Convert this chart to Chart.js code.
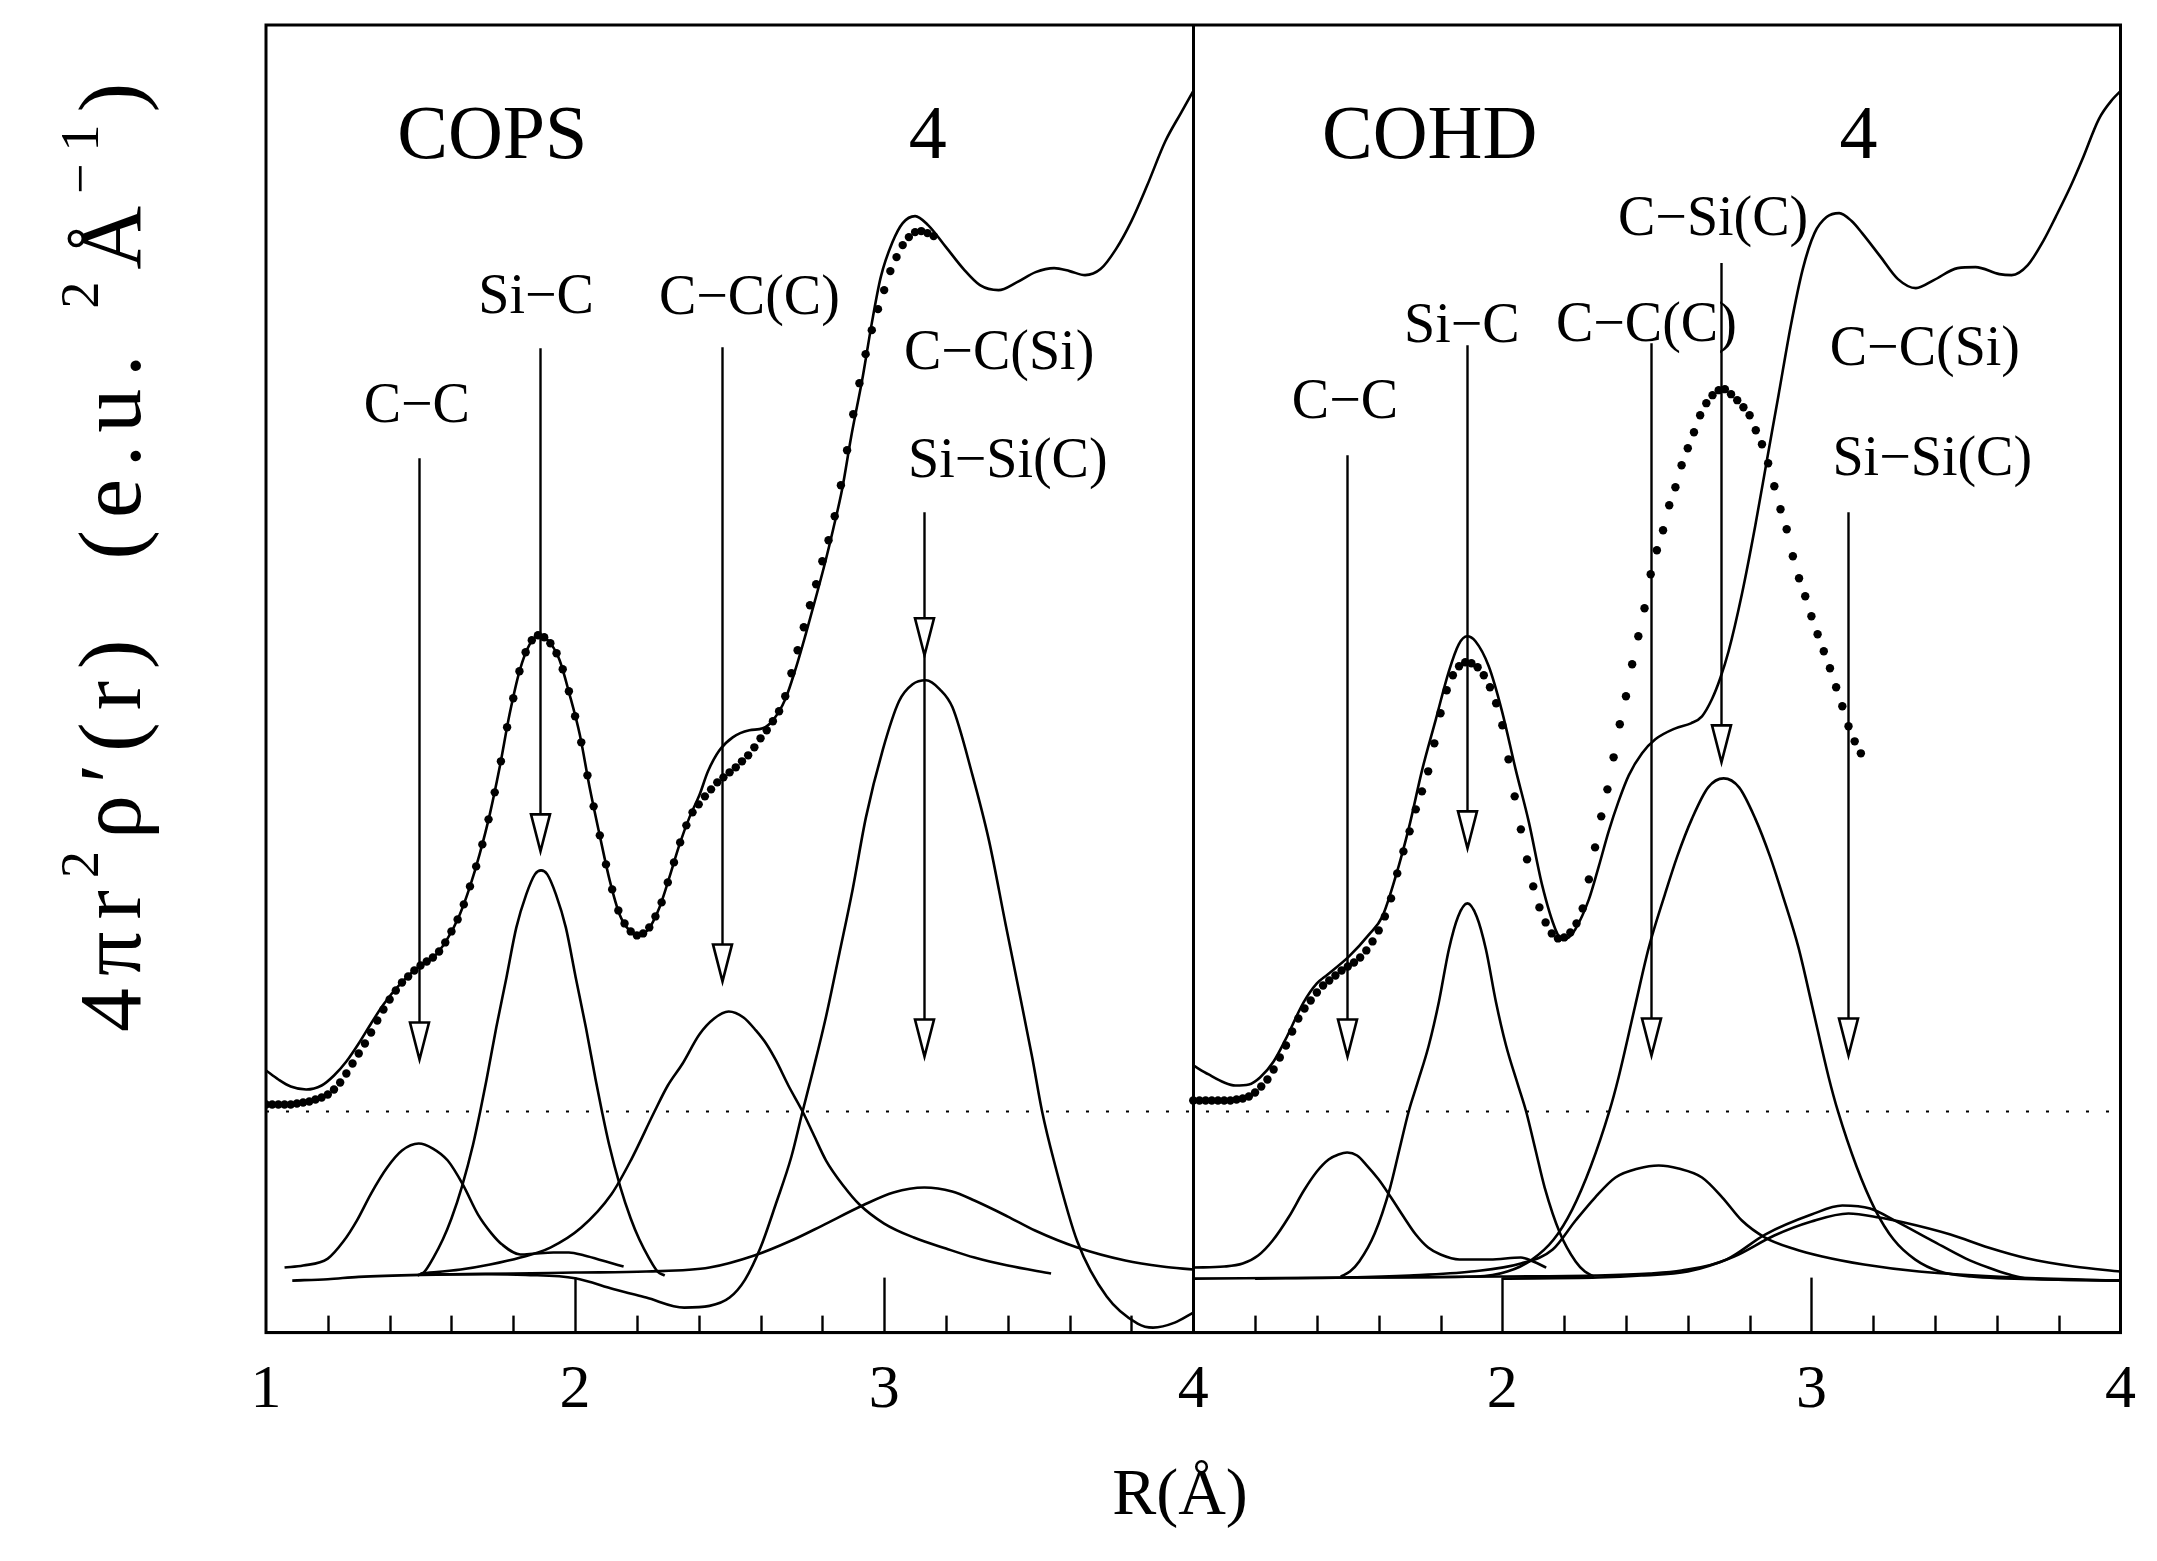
<!DOCTYPE html>
<html>
<head>
<meta charset="utf-8">
<title>Radial distribution functions: COPS and COHD</title>
<script src="https://cdn.jsdelivr.net/npm/chart.js@4.4.1/dist/chart.umd.min.js"></script>
<style>
  html, body { margin: 0; padding: 0; background: #fff; }
  canvas { display: block; }
</style>
</head>
<body>
<canvas id="rdf" width="2157" height="1561" style="width:2157px;height:1561px"></canvas>
<script>
// R in Å, intensity in arbitrary units (0 = dotted reference level)

const tickLabels = ["1", "2", "3", "4", "2", "3", "4"];

// R grid of the fitted curve (dots)
const fitR = [1.00,1.02,1.04,1.06,1.08,1.10,1.12,1.14,1.16,1.18,1.20,1.22,1.24,1.26,1.28,1.30,1.32,1.34,1.36,1.38,
  1.40,1.42,1.44,1.46,1.48,1.50,1.52,1.54,1.56,1.58,1.60,1.62,1.64,1.66,1.68,1.70,1.72,1.74,1.76,1.78,
  1.80,1.82,1.84,1.86,1.88,1.90,1.92,1.94,1.96,1.98,2.00,2.02,2.04,2.06,2.08,2.10,2.12,2.14,2.16,2.18,
  2.20,2.22,2.24,2.26,2.28,2.30,2.32,2.34,2.36,2.38,2.40,2.42,2.44,2.46,2.48,2.50,2.52,2.54,2.56,2.58,
  2.60,2.62,2.64,2.66,2.68,2.70,2.72,2.74,2.76,2.78,2.80,2.82,2.84,2.86,2.88,2.90,2.92,2.94,2.96,2.98,
  3.00,3.02,3.04,3.06,3.08,3.10,3.12,3.14,3.16];

// ---------- COPS ----------
const copsMeasured = [[1.00,0.41],[1.04,0.32],[1.08,0.25],[1.13,0.22],[1.18,0.26],[1.22,0.36],[1.26,0.50],[1.30,0.68],
  [1.34,0.88],[1.38,1.07],[1.433,1.27],[1.498,1.46],[1.541,1.54],[1.584,1.71],[1.627,1.97],[1.659,2.24],[1.691,2.57],
  [1.724,2.97],[1.756,3.44],[1.788,3.97],[1.821,4.41],[1.853,4.67],[1.885,4.76],[1.918,4.69],[1.95,4.51],[1.982,4.17],
  [2.015,3.77],[2.047,3.24],[2.079,2.77],[2.112,2.31],[2.144,1.97],[2.176,1.81],[2.208,1.76],[2.241,1.84],[2.273,2.04],
  [2.305,2.34],[2.338,2.67],[2.37,2.94],[2.402,3.16],[2.43,3.40],[2.467,3.61],[2.51,3.74],[2.564,3.81],[2.607,3.83],
  [2.64,3.91],[2.68,4.12],[2.715,4.44],[2.747,4.78],[2.78,5.15],[2.81,5.50],[2.835,5.82],[2.864,6.22],[2.893,6.74],
  [2.931,7.35],[2.96,7.88],[2.989,8.34],[3.027,8.69],[3.06,8.88],[3.10,8.95],[3.142,8.86],[3.20,8.64],[3.257,8.42],
  [3.31,8.26],[3.37,8.21],[3.43,8.29],[3.49,8.39],[3.55,8.43],[3.60,8.40],[3.65,8.36],[3.70,8.42],[3.75,8.62],
  [3.80,8.90],[3.85,9.25],[3.91,9.70],[3.96,9.98],[4.00,10.20]];

const copsFit = [0.07,0.07,0.07,0.07,0.07,0.08,0.09,0.10,0.12,0.14,0.17,0.22,0.29,0.38,0.48,0.58,0.68,0.79,0.91,1.02,
  1.12,1.21,1.29,1.35,1.41,1.46,1.50,1.54,1.60,1.69,1.80,1.92,2.07,2.25,2.45,2.67,2.92,3.19,3.50,3.84,
  4.13,4.40,4.59,4.71,4.76,4.74,4.68,4.58,4.42,4.20,3.95,3.69,3.36,3.05,2.76,2.47,2.22,2.01,1.88,1.80,
  1.76,1.78,1.84,1.95,2.09,2.29,2.49,2.69,2.86,2.99,3.07,3.15,3.22,3.29,3.34,3.39,3.44,3.50,3.56,3.64,
  3.73,3.81,3.90,4.00,4.15,4.38,4.61,4.84,5.06,5.27,5.50,5.71,5.95,6.26,6.61,6.97,7.28,7.57,7.81,8.02,
  8.21,8.40,8.54,8.66,8.74,8.79,8.80,8.78,8.75];

const copsCC = [[1.06,-1.56],[1.12,-1.54],[1.20,-1.47],[1.25,-1.30],[1.294,-1.09],[1.34,-0.82],[1.392,-0.56],[1.44,-0.39],
  [1.494,-0.32],[1.54,-0.37],[1.588,-0.49],[1.637,-0.73],[1.686,-1.03],[1.73,-1.22],[1.764,-1.33],[1.823,-1.43],
  [1.87,-1.42],[1.93,-1.41],[1.98,-1.41],[2.03,-1.44],[2.10,-1.50],[2.157,-1.55]];

const copsSiC = [[1.49,-1.64],[1.513,-1.60],[1.54,-1.47],[1.572,-1.28],[1.60,-1.07],[1.634,-0.75],[1.67,-0.33],[1.693,0.0],
  [1.713,0.31],[1.745,0.84],[1.778,1.34],[1.81,1.84],[1.842,2.17],[1.87,2.37],[1.89,2.41],[1.91,2.37],[1.938,2.17],
  [1.97,1.84],[2.002,1.34],[2.035,0.84],[2.067,0.31],[2.087,0.0],[2.11,-0.33],[2.146,-0.75],[2.18,-1.07],[2.208,-1.28],
  [2.24,-1.47],[2.267,-1.60],[2.29,-1.64]];

const copsCCC = [[1.50,-1.62],[1.63,-1.58],[1.725,-1.53],[1.823,-1.46],[1.92,-1.36],[2.02,-1.16],[2.117,-0.83],[2.18,-0.49],
  [2.257,0.0],[2.30,0.26],[2.348,0.48],[2.402,0.77],[2.45,0.93],[2.497,1.0],[2.545,0.94],[2.585,0.81],[2.62,0.67],
  [2.65,0.51],[2.69,0.26],[2.736,0.0],[2.77,-0.22],[2.812,-0.49],[2.87,-0.75],[2.92,-0.93],[3.0,-1.12],[3.096,-1.26],
  [3.20,-1.37],[3.292,-1.46],[3.40,-1.54],[3.54,-1.62]];

const copsCCSi = [[1.50,-1.63],[1.80,-1.62],[2.0,-1.61],[2.23,-1.60],[2.435,-1.56],[2.58,-1.44],[2.70,-1.29],[2.80,-1.14],
  [2.93,-0.94],[3.03,-0.81],[3.13,-0.76],[3.22,-0.80],[3.292,-0.89],[3.40,-1.05],[3.488,-1.19],[3.625,-1.36],
  [3.78,-1.49],[3.90,-1.55],[4.0,-1.58]];

const copsSiSi = [[1.085,-1.69],[1.20,-1.676],[1.30,-1.653],[1.50,-1.633],[1.71,-1.626],[1.84,-1.633],[2.0,-1.666],
  [2.126,-1.776],[2.23,-1.86],[2.353,-1.96],[2.435,-1.943],[2.50,-1.86],[2.55,-1.68],[2.60,-1.36],[2.65,-0.92],
  [2.70,-0.45],[2.736,0.0],[2.769,0.40],[2.812,0.95],[2.855,1.58],[2.898,2.22],[2.941,2.94],[2.995,3.61],[3.048,4.10],
  [3.092,4.27],[3.135,4.31],[3.18,4.22],[3.221,4.04],[3.285,3.37],[3.339,2.71],[3.393,1.87],[3.436,1.21],[3.479,0.54],
  [3.511,0.0],[3.549,-0.49],[3.625,-1.30],[3.72,-1.85],[3.82,-2.12],[3.87,-2.16],[3.94,-2.11],[4.0,-2.01]];

// arrows: R position, top of shaft, arrow tip(s)
const copsArrowR   = [1.495, 1.885, 2.475, 3.13];
const copsArrowTop = [6.53, 7.63, 7.64, 5.99];
const copsArrowTip = [[0.52], [2.60], [1.30], [4.56, 0.55]];

const copsLabels = [["C\u2212C", 1.488, 7.04], ["Si\u2212C", 1.874, 8.13], ["C\u2212C(C)", 2.564, 8.12],
  ["C\u2212C(Si)", 3.372, 7.57], ["Si\u2212Si(C)", 3.40, 6.49]];
const copsHeads = [["COPS", 1.732, 9.73], ["4", 3.141, 9.73]];

// ---------- COHD ----------
const cohdMeasured = [[1.00,0.46],[1.05,0.37],[1.10,0.29],[1.136,0.26],[1.18,0.27],[1.216,0.34],[1.26,0.50],[1.297,0.71],
  [1.357,1.09],[1.40,1.28],[1.435,1.37],[1.504,1.55],[1.569,1.77],[1.612,1.95],[1.655,2.35],[1.698,2.84],[1.741,3.42],
  [1.784,3.91],[1.827,4.40],[1.859,4.67],[1.886,4.75],[1.913,4.70],[1.956,4.45],[1.999,4.00],[2.043,3.42],[2.086,2.89],
  [2.129,2.26],[2.172,1.82],[2.193,1.72],[2.215,1.74],[2.236,1.82],[2.28,2.12],[2.312,2.45],[2.344,2.80],[2.376,3.10],
  [2.409,3.36],[2.452,3.58],[2.495,3.72],[2.56,3.83],[2.61,3.88],[2.646,3.95],[2.678,4.12],[2.705,4.33],[2.732,4.60],
  [2.775,5.17],[2.818,5.85],[2.856,6.51],[2.893,7.15],[2.933,7.85],[2.972,8.42],[3.01,8.78],[3.049,8.94],[3.09,8.98],
  [3.13,8.90],[3.164,8.78],[3.222,8.55],[3.28,8.32],[3.338,8.23],[3.396,8.31],[3.473,8.43],[3.531,8.44],[3.608,8.37],
  [3.648,8.36],[3.70,8.46],[3.75,8.70],[3.79,8.94],[3.839,9.25],[3.877,9.52],[3.93,9.92],[3.975,10.12],[4.00,10.20]];

const cohdFit = [0.11,0.11,0.11,0.11,0.11,0.11,0.11,0.12,0.13,0.15,0.19,0.25,0.32,0.42,0.54,0.66,0.80,0.93,1.03,1.11,
  1.19,1.26,1.31,1.36,1.41,1.45,1.49,1.54,1.61,1.70,1.81,1.95,2.13,2.38,2.60,2.80,3.02,3.20,3.40,3.68,
  3.98,4.21,4.36,4.45,4.49,4.48,4.44,4.36,4.24,4.08,3.86,3.52,3.15,2.82,2.52,2.25,2.04,1.89,1.78,1.73,
  1.74,1.79,1.88,2.03,2.32,2.64,2.95,3.22,3.54,3.87,4.15,4.47,4.75,5.03,5.37,5.61,5.81,6.06,6.24,6.46,
  6.63,6.79,6.96,7.08,7.16,7.21,7.22,7.17,7.11,7.04,6.96,6.81,6.67,6.48,6.25,6.02,5.82,5.55,5.33,5.15,
  4.95,4.77,4.60,4.43,4.24,4.05,3.85,3.70,3.58];

const cohdCC = [[1.00,-1.56],[1.10,-1.55],[1.16,-1.52],[1.21,-1.44],[1.257,-1.29],[1.31,-1.05],[1.358,-0.79],[1.40,-0.60],
  [1.438,-0.48],[1.47,-0.43],[1.498,-0.41],[1.53,-0.44],[1.559,-0.53],[1.60,-0.68],[1.64,-0.86],[1.68,-1.05],
  [1.72,-1.23],[1.76,-1.36],[1.80,-1.43],[1.861,-1.48],[1.96,-1.48],[2.06,-1.46],[2.10,-1.50],[2.142,-1.56]];

const cohdSiC = [[1.477,-1.65],[1.507,-1.60],[1.537,-1.50],[1.587,-1.22],[1.637,-0.76],[1.667,-0.38],[1.697,0.0],
  [1.725,0.28],[1.762,0.66],[1.795,1.10],[1.827,1.62],[1.857,1.95],[1.887,2.08],[1.917,1.95],[1.947,1.62],[1.979,1.10],
  [2.012,0.66],[2.049,0.28],[2.077,0.0],[2.107,-0.38],[2.137,-0.76],[2.187,-1.22],[2.237,-1.50],[2.267,-1.60],[2.297,-1.65]];

const cohdCCC = [[1.20,-1.67],[1.50,-1.66],[1.70,-1.64],[1.90,-1.60],[2.06,-1.52],[2.163,-1.38],[2.237,-1.09],[2.30,-0.86],
  [2.366,-0.66],[2.44,-0.57],[2.506,-0.54],[2.57,-0.57],[2.646,-0.66],[2.712,-0.86],[2.775,-1.09],[2.85,-1.26],
  [2.94,-1.37],[3.035,-1.45],[3.17,-1.53],[3.348,-1.60],[3.66,-1.66],[4.0,-1.69]];

const cohdCSiC = [[1.00,-1.67],[1.50,-1.66],[1.916,-1.65],[2.016,-1.60],[2.096,-1.48],[2.166,-1.28],[2.226,-0.98],
  [2.286,-0.55],[2.346,0.0],[2.376,0.34],[2.43,1.06],[2.474,1.64],[2.526,2.17],[2.566,2.55],[2.614,2.93],[2.666,3.24],
  [2.716,3.33],[2.766,3.24],[2.818,2.93],[2.866,2.55],[2.906,2.17],[2.958,1.64],[3.002,1.06],[3.056,0.34],[3.086,0.0],
  [3.146,-0.55],[3.206,-0.98],[3.266,-1.28],[3.336,-1.48],[3.416,-1.60],[3.516,-1.65],[3.80,-1.68],[4.0,-1.69]];

const cohdCCSi = [[1.50,-1.66],[2.0,-1.65],[2.30,-1.64],[2.475,-1.62],[2.58,-1.59],[2.725,-1.48],[2.85,-1.23],[3.0,-1.03],
  [3.10,-0.94],[3.19,-0.97],[3.27,-1.09],[3.39,-1.29],[3.50,-1.47],[3.572,-1.56],[3.64,-1.63],[3.70,-1.67],[4.0,-1.69]];

const cohdSiSi = [[2.0,-1.67],[2.31,-1.66],[2.45,-1.64],[2.60,-1.60],[2.75,-1.45],[2.88,-1.24],[3.0,-1.10],[3.12,-1.02],
  [3.22,-1.06],[3.30,-1.11],[3.45,-1.23],[3.572,-1.36],[3.70,-1.47],[3.85,-1.55],[4.0,-1.60]];

const cohdArrowR   = [1.496, 1.887, 2.48, 2.706, 3.117];
const cohdArrowTop = [6.56, 7.66, 7.68, 8.48, 5.99];
const cohdArrowTip = [[0.55], [2.63], [0.56], [3.49], [0.56]];

const cohdLabels = [["C\u2212C", 1.491, 7.08], ["Si\u2212C", 1.869, 7.84], ["C\u2212C(C)", 2.466, 7.85],
  ["C\u2212Si(C)", 2.682, 8.91], ["C\u2212C(Si)", 3.367, 7.61], ["Si\u2212Si(C)", 3.391, 6.51]];
const cohdHeads = [["COHD", 1.765, 9.73], ["4", 3.152, 9.73]];

// ---------- chart construction ----------
const SERIF = '"Liberation Serif", "Times New Roman", serif';
const RIGHT_SHIFT = 3;   // second panel occupies 4..7 on the shared axis

function curve(arr, shift, width) {
  return {
    data: arr.map(p => ({ x: p[0] + shift, y: p[1] })),
    borderColor: '#000', borderWidth: width, pointRadius: 0, fill: false,
    cubicInterpolationMode: 'monotone'
  };
}
function dotted(ys, shift) {
  return {
    data: fitR.map((r, i) => ({ x: r + shift, y: ys[i] })),
    showLine: false, pointRadius: 4.2, pointBackgroundColor: '#000',
    pointBorderWidth: 0, borderColor: '#000'
  };
}

const datasets = [
  // reference level across both panels
  { data: [{ x: 1, y: 0 }, { x: 7, y: 0 }], borderColor: '#000', borderWidth: 2.2,
    borderDash: [3, 17], pointRadius: 0, fill: false },
  curve(copsCC, 0, 2.6), curve(copsSiC, 0, 2.6), curve(copsCCC, 0, 2.6),
  curve(copsCCSi, 0, 2.6), curve(copsSiSi, 0, 2.6),
  curve(cohdCC, RIGHT_SHIFT, 2.6), curve(cohdSiC, RIGHT_SHIFT, 2.6), curve(cohdCCC, RIGHT_SHIFT, 2.6),
  curve(cohdCSiC, RIGHT_SHIFT, 2.6), curve(cohdCCSi, RIGHT_SHIFT, 2.6), curve(cohdSiSi, RIGHT_SHIFT, 2.6),
  curve(copsMeasured, 0, 2.6), curve(cohdMeasured, RIGHT_SHIFT, 2.6),
  dotted(copsFit, 0), dotted(cohdFit, RIGHT_SHIFT)
];

const panels = [
  { shift: 0, ar: copsArrowR, at: copsArrowTop, tips: copsArrowTip, labels: copsLabels, heads: copsHeads },
  { shift: RIGHT_SHIFT, ar: cohdArrowR, at: cohdArrowTop, tips: cohdArrowTip, labels: cohdLabels, heads: cohdHeads }
];

function drawYTitle(ctx) {
  // rotated axis caption with raised superscripts
  const runs = [["4\u03c0r", 0], ["2", 1], ["\u03c1\u2032(r)", 0], ["  ", 0], ["(e.u.", 0], [" ", 0],
                ["2", 1], ["\u00c5", 0], ["\u22121", 1], [")", 0]];
  const big = 88, small = 54, raise = 42;
  const chars = [];
  for (const [t, sup] of runs) {
    for (const ch of t) {
      ctx.font = (sup ? small : big) + 'px ' + SERIF;
      chars.push({ ch, sup, w: ctx.measureText(ch).width });
    }
  }
  const natural = chars.reduce((s, c) => s + c.w, 0);
  const yBottom = 1032, yTop = 83, baseX = 140;
  const extra = ((yBottom - yTop) - natural) / (chars.length - 1);
  ctx.save();
  ctx.translate(baseX, yBottom);
  ctx.rotate(-Math.PI / 2);
  ctx.fillStyle = '#000';
  ctx.textBaseline = 'alphabetic';
  ctx.textAlign = 'left';
  let u = 0;
  for (const c of chars) {
    ctx.font = (c.sup ? small : big) + 'px ' + SERIF;
    ctx.fillText(c.ch, u, c.sup ? -raise : 0);
    u += c.w + extra;
  }
  ctx.restore();
}

const decorations = {
  id: 'decorations',
  afterDatasetsDraw(chart) {
    const { ctx, chartArea: a, scales: { x, y } } = chart;
    ctx.save();
    // arrows
    const headH = 37, headW = 19;
    ctx.strokeStyle = '#000';
    ctx.lineJoin = 'miter';
    for (const p of panels) {
      p.ar.forEach((r, i) => {
        const px = Math.round(x.getPixelForValue(r + p.shift)) + 0.5;
        const yTop = y.getPixelForValue(p.at[i]);
        const tips = p.tips[i];
        const yEnd = y.getPixelForValue(tips[tips.length - 1]);
        ctx.lineWidth = 2.4;
        ctx.beginPath();
        ctx.moveTo(px, yTop);
        ctx.lineTo(px, yEnd - headH);
        ctx.stroke();
        for (const t of tips) {
          const yt = y.getPixelForValue(t);
          ctx.beginPath();
          ctx.moveTo(px - headW / 2, yt - headH);
          ctx.lineTo(px + headW / 2, yt - headH);
          ctx.lineTo(px, yt);
          ctx.closePath();
          ctx.fillStyle = '#fff';
          ctx.fill();
          ctx.lineWidth = 2.6;
          ctx.stroke();
        }
      });
    }
    // bond labels and panel captions
    ctx.fillStyle = '#000';
    ctx.textAlign = 'center';
    ctx.textBaseline = 'middle';
    for (const p of panels) {
      ctx.font = '56px ' + SERIF;
      for (const [t, r, v] of p.labels) {
        ctx.fillText(t, x.getPixelForValue(r + p.shift), y.getPixelForValue(v));
      }
      ctx.font = '76px ' + SERIF;
      for (const [t, r, v] of p.heads) {
        ctx.fillText(t, x.getPixelForValue(r + p.shift), y.getPixelForValue(v));
      }
    }
    // frame
    ctx.lineWidth = 3;
    ctx.strokeStyle = '#000';
    ctx.strokeRect(a.left, a.top, a.right - a.left, a.bottom - a.top);
    // inward tick marks on the R axis: majors every 1 Å, minors every 0.2 Å
    ctx.lineWidth = 2.4;
    for (let i = 1; i < 30; i++) {
      if (i % 15 === 0) continue;            // panel borders
      const v = 1 + i * 0.2;
      const px = Math.round(x.getPixelForValue(v)) + 0.5;
      const len = (i % 5 === 0) ? 55 : 17;
      ctx.beginPath();
      ctx.moveTo(px, a.bottom);
      ctx.lineTo(px, a.bottom - len);
      ctx.stroke();
    }
    ctx.restore();
  },
  afterDraw(chart) {
    const { ctx } = chart;
    ctx.save();
    ctx.fillStyle = '#000';
    ctx.font = '66px ' + SERIF;
    ctx.textAlign = 'center';
    ctx.textBaseline = 'alphabetic';
    ctx.fillText('R(\u00c5)', 1180, 1514);
    drawYTitle(ctx);
    ctx.restore();
  }
};

Chart.defaults.font.family = SERIF;
Chart.defaults.color = '#000';

new Chart(document.getElementById('rdf'), {
  type: 'line',
  data: { datasets },
  options: {
    responsive: false,
    devicePixelRatio: 1,
    animation: false,
    events: [],
    layout: { padding: { left: 266, right: 35, top: 25, bottom: 112 } },
    plugins: { legend: { display: false }, tooltip: { enabled: false } },
    scales: {
      x: {
        type: 'linear', min: 1, max: 7,
        ticks: {
          stepSize: 1, autoSkip: false, maxRotation: 0, padding: 21,
          font: { family: SERIF, size: 62 }, color: '#000',
          callback: (value, index) => tickLabels[index]
        },
        grid: {
          drawTicks: false, lineWidth: 3,
          color: c => (c.tick && c.tick.value === 4) ? '#000' : 'rgba(0,0,0,0)'
        },
        border: { display: true, color: '#000', width: 3 }
      },
      y: { type: 'linear', min: -2.21, max: 10.86, display: false }
    }
  },
  plugins: [decorations]
});
</script>
</body>
</html>
